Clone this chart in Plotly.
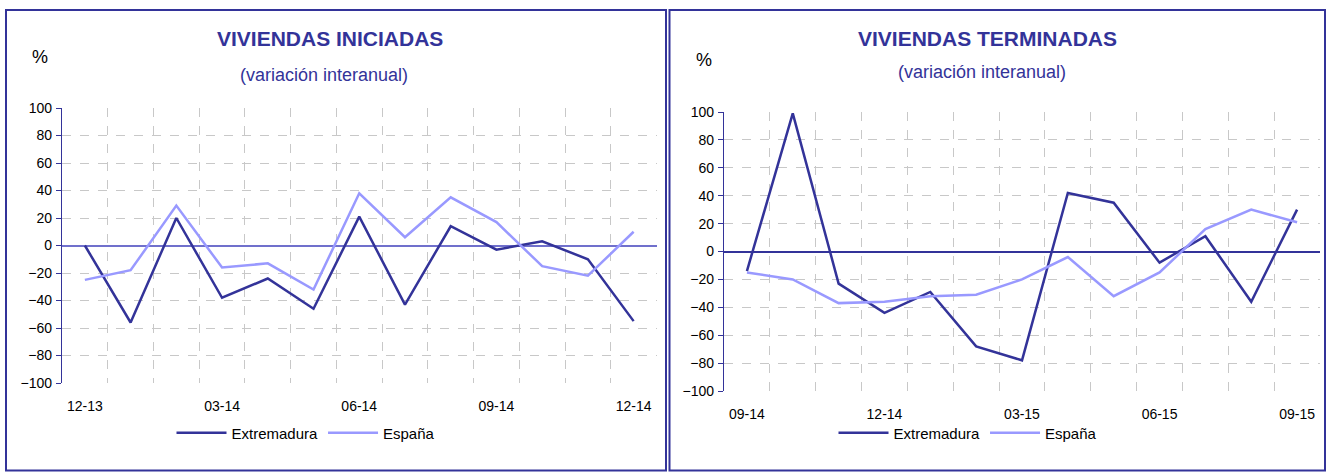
import plotly.graph_objects as go

W, H = 1327, 474

# ---- data ----
cats_ini = ["12-13", "01-14", "02-14", "03-14", "04-14", "05-14", "06-14",
            "07-14", "08-14", "09-14", "10-14", "11-14", "12-14"]
ext_ini = [0, -56, 20, -38, -24, -46, 21, -43, 14, -3, 3, -10, -55]
esp_ini = [-25, -18, 29, -16, -13, -32, 38, 6, 35, 17, -15, -22, 10]

cats_ter = ["09-14", "10-14", "11-14", "12-14", "01-15", "02-15", "03-15",
            "04-15", "05-15", "06-15", "07-15", "08-15", "09-15"]
ext_ter = [-14, 99, -23, -44, -29, -68, -78, 42, 35, -8, 11, -36, 30]
esp_ter = [-15, -20, -37, -36, -32, -31, -20, -4, -32, -15, 16, 30, 21]

tick_ini = ["12-13", "03-14", "06-14", "09-14", "12-14"]
tick_ter = ["09-14", "12-14", "03-15", "06-15", "09-15"]
y_ticks = [-100, -80, -60, -40, -20, 0, 20, 40, 60, 80, 100]

DARK = "#333399"
LIGHT = "#9999FF"
FONT = "Liberation Sans"

def px(x):
    return x / W

def py(y):
    return 1 - y / H

fig = go.Figure()

idx_ini = list(range(len(cats_ini)))
idx_ter = list(range(len(cats_ter)))

fig.add_trace(go.Scatter(x=idx_ini, y=ext_ini, mode="lines", name="Extremadura",
                         line=dict(color=DARK, width=2.5), xaxis="x", yaxis="y",
                         legend="legend", hoverinfo="skip"))
fig.add_trace(go.Scatter(x=idx_ini, y=esp_ini, mode="lines", name="España",
                         line=dict(color=LIGHT, width=2.5), xaxis="x", yaxis="y",
                         legend="legend", hoverinfo="skip"))
fig.add_trace(go.Scatter(x=idx_ter, y=ext_ter, mode="lines", name="Extremadura",
                         line=dict(color=DARK, width=2.5), xaxis="x2", yaxis="y2",
                         legend="legend2", hoverinfo="skip"))
fig.add_trace(go.Scatter(x=idx_ter, y=esp_ter, mode="lines", name="España",
                         line=dict(color=LIGHT, width=2.5), xaxis="x2", yaxis="y2",
                         legend="legend2", hoverinfo="skip"))

def xaxis(domain, anchor, cats, ticks):
    tv = [cats.index(t) for t in ticks]
    return dict(domain=domain, anchor=anchor, range=[-0.5, len(cats) - 0.5],
                tickvals=tv, ticktext=ticks, showgrid=False, zeroline=False,
                showline=False, ticks="", ticklabelstandoff=13, automargin=False,
                tickfont=dict(family=FONT, size=14, color="black"),
                minor=dict(tick0=0.5, dtick=1, showgrid=True, gridcolor="#C8C8C8",
                           griddash="dash", gridwidth=1, ticks=""),
                fixedrange=True)

def yaxis(domain, anchor, zcolor):
    return dict(domain=domain, anchor=anchor, range=[-100, 100], tickvals=y_ticks,
                showgrid=True, gridcolor="#C8C8C8", griddash="dash", gridwidth=1,
                zeroline=True, zerolinecolor=zcolor, zerolinewidth=1.5,
                showline=True, linecolor=DARK, linewidth=1.3, automargin=False,
                ticks="outside", ticklen=5, tickcolor=DARK, ticklabelstandoff=1,
                tickfont=dict(family=FONT, size=14, color="black"), fixedrange=True)

fig.update_layout(
    width=W, height=H,
    margin=dict(l=0, r=0, t=0, b=0, pad=0, autoexpand=False),
    paper_bgcolor="white", plot_bgcolor="white",
    font=dict(family=FONT, color="black"),
    xaxis=xaxis([px(62), px(656.5)], "y", cats_ini, tick_ini),
    yaxis=yaxis([py(383), py(108)], "x", "#7070CC"),
    xaxis2=xaxis([px(724), px(1320)], "y2", cats_ter, tick_ter),
    yaxis2=yaxis([py(391), py(112)], "x2", "#333399"),
    legend=dict(orientation="h", x=px(306), y=py(433), xanchor="center", yanchor="middle",
                font=dict(family=FONT, size=15, color="black"), bgcolor="rgba(0,0,0,0)",
                itemwidth=50, tracegroupgap=0),
    legend2=dict(orientation="h", x=px(968), y=py(433), xanchor="center", yanchor="middle",
                 font=dict(family=FONT, size=15, color="black"), bgcolor="rgba(0,0,0,0)",
                 itemwidth=50, tracegroupgap=0),
    showlegend=True,
)

# panel borders
fig.add_shape(type="rect", xref="paper", yref="paper", x0=px(6), x1=px(666),
              y0=py(470.5), y1=py(10), line=dict(color=DARK, width=2))
fig.add_shape(type="rect", xref="paper", yref="paper", x0=px(669.5), x1=px(1325),
              y0=py(470.5), y1=py(10), line=dict(color=DARK, width=2))

ann = [
    dict(text="VIVIENDAS INICIADAS", x=px(330), y=py(38), size=21, bold=True, color=DARK),
    dict(text="(variación interanual)", x=px(324), y=py(75), size=18, bold=False, color=DARK),
    dict(text="%", x=px(40), y=py(57), size=18, bold=False, color="black"),
    dict(text="VIVIENDAS TERMINADAS", x=px(987), y=py(38), size=21, bold=True, color=DARK),
    dict(text="(variación interanual)", x=px(982), y=py(72), size=18, bold=False, color=DARK),
    dict(text="%", x=px(704), y=py(60), size=18, bold=False, color="black"),
]
for a in ann:
    fig.add_annotation(text=a["text"], x=a["x"], y=a["y"], xref="paper", yref="paper",
                       xanchor="center", yanchor="middle", showarrow=False,
                       font=dict(family=FONT, size=a["size"], color=a["color"],
                                 weight="bold" if a["bold"] else "normal"))

fig.write_html(
    "out.html",
    config={"displayModeBar": False},
    post_script="document.documentElement.style.margin='0';"
                "document.body.style.margin='0';document.body.style.padding='0';"
                "document.body.style.overflow='hidden';",
)
